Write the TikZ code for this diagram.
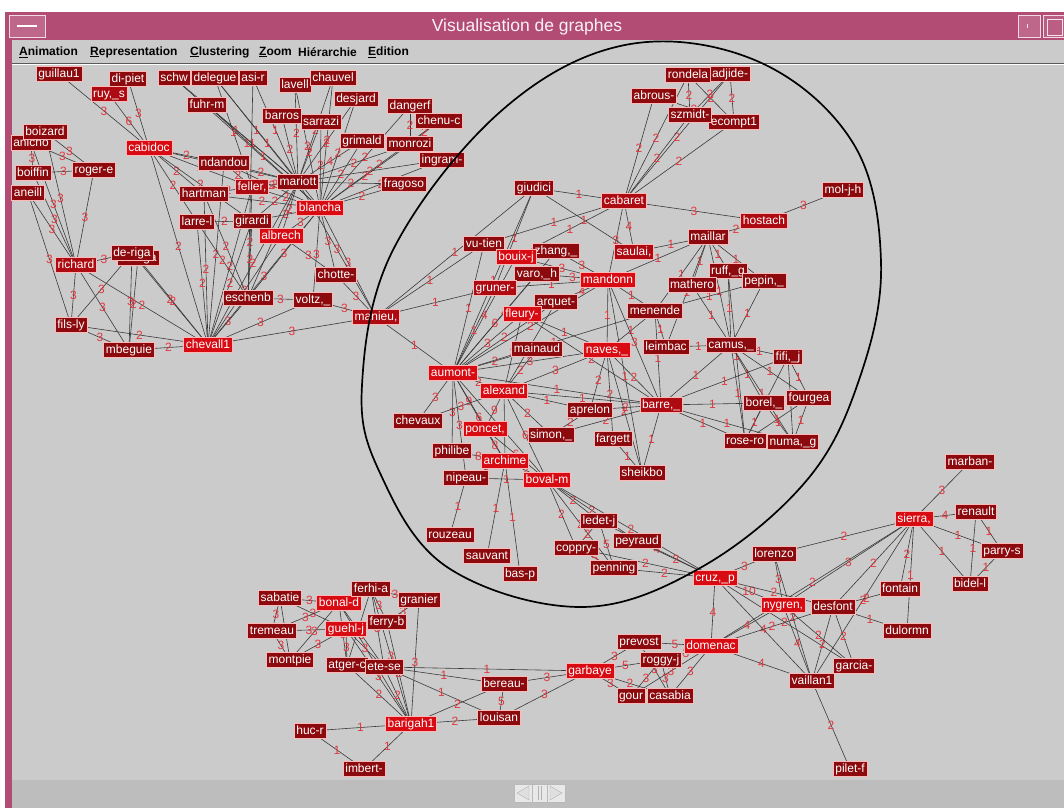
\documentclass[tikz,border=0pt]{standalone}
\usepackage{fontspec}
\setmainfont{Liberation Sans}
\pgfdeclarelayer{chrome}
\pgfdeclarelayer{links}
\pgfsetlayers{chrome,links,main}

\definecolor{winpink}{HTML}{B24C75}
\definecolor{canvas}{HTML}{CBCBCB}
\definecolor{strip}{HTML}{BDBDBD}
\definecolor{nodebright}{HTML}{D80A12}
\definecolor{nodemid}{HTML}{AE0A12}
\definecolor{nodedark}{HTML}{8C0A0D}
\definecolor{edgegray}{HTML}{3A3A3A}
\definecolor{weightred}{HTML}{E2383F}

\tikzset{
  vx/.style={draw=white!72!red, line width=0.6pt, text=white,
    font=\fontsize{12}{12}\selectfont, inner xsep=2.2pt, inner ysep=0pt,
    minimum height=15.5pt, text height=9pt, text depth=2.5pt},
  br/.style={vx, fill=nodebright},
  md/.style={vx, fill=nodemid},
  dk/.style={vx, fill=nodedark},
  edge/.style={draw=edgegray, line width=0.6pt},
  wt/.style={text=weightred, font=\fontsize{12}{12}\selectfont, inner sep=0pt},
  menuitem/.style={anchor=west, font=\bfseries\fontsize{12}{12}\selectfont, inner sep=0pt}
}

\begin{document}
\begin{tikzpicture}[x=1pt,y=-1pt]
\useasboundingbox (0,0) rectangle (1064,808);

% ---------- window frame ----------
\begin{pgfonlayer}{chrome}
  \fill[white] (0,0) rectangle (1064,808);
  \fill[canvas] (12,40) rectangle (1064,780);
  \fill[winpink] (5,12) rectangle (1064,40);
  \fill[winpink] (5,12) rectangle (12,808);
  \fill[strip] (12,780) rectangle (1064,808);
  \draw[gray!70!black, line width=0.6pt] (12,63) -- (1064,63);
  \draw[white, line width=0.6pt] (12,64.2) -- (1064,64.2);
  % title bar buttons
  \draw[fill=winpink!85!white, draw=white!80!winpink] (9,15) rectangle (45,37);
  \draw[white, line width=1.2pt] (17,26) -- (37,26);
  \draw[fill=winpink!85!white, draw=white!80!winpink] (1018,15) rectangle (1040,37);
  \draw[white!85!winpink, line width=0.8pt] (1027,24) -- (1027,28);
  \draw[fill=winpink!90!white, draw=white!80!winpink] (1043,15) rectangle (1064,37);
  \draw[white!85!winpink] (1047,19) rectangle (1062,35);
  % scroll buttons in the bottom strip
  \draw[fill=gray!18, draw=gray!55] (514,784) rectangle (532,802);
  \draw[fill=gray!18, draw=gray!55] (532,784) rectangle (547,802);
  \draw[fill=gray!18, draw=gray!55] (547,784) rectangle (565,802);
  \draw[gray!60, fill=gray!25] (529,786) -- (517,793) -- (529,800) -- cycle;
  \draw[gray!60] (538,786) -- (538,800) (541,786) -- (541,800);
  \draw[gray!60, fill=gray!25] (550,786) -- (562,793) -- (550,800) -- cycle;
\end{pgfonlayer}

\node[text=white!92!winpink, font=\fontsize{17.5}{17.5}\selectfont, inner sep=0pt] (title) at (527,27) {Visualisation de graphes};
\node[menuitem] (m1) at (19,52) {\underline{A}nimation};
\node[menuitem] (m2) at (90,52) {\underline{R}epresentation};
\node[menuitem] (m3) at (190,52) {\underline{C}lustering};
\node[menuitem] (m4) at (259,52) {\underline{Z}oom};
\node[menuitem] (m5) at (298,52) {Hiérarchie};
\node[menuitem] (m6) at (368,52) {\underline{E}dition};

% ---------- vertices ----------
% left-hand cluster
\node[dk] (guillau) at (59,74) {guillau1};
\node[dk] (dipiet) at (128,79) {di-piet};
\node[md] (ruy) at (109,94) {ruy,\_s};
\node[dk] (schw) at (174,78) {schw};
\node[dk] (delegue) at (215,78) {delegue};
\node[dk] (asi) at (253,78) {asi-r};
\node[dk] (lavell) at (295,85) {lavell};
\node[dk] (chauvel) at (333,78) {chauvel};
\node[dk] (desjard) at (356,99) {desjard};
\node[dk] (dangerf) at (410,106) {dangerf};
\node[dk] (chenuc) at (439,121) {chenu-c};
\node[dk] (fuhrm) at (207,105) {fuhr-m};
\node[dk] (barros) at (282,116) {barros};
\node[dk] (sarrazi) at (321,122) {sarrazi};
\node[dk] (grimald) at (362,141) {grimald};
\node[dk] (monrozi) at (410,144) {monrozi};
\node[dk] (ingram) at (442,160) {ingram-};
\node[dk] (anicho) at (31,143) {anicho};
\node[dk] (boizard) at (45,132) {boizard};
\node[br] (cabidoc) at (149,148) {cabidoc};
\node[dk] (ndandou) at (224,163) {ndandou};
\node[dk] (rogere) at (94,170) {roger-e};
\node[dk] (boiffin) at (33,173) {boiffin};
\node[dk] (mariott) at (298,182) {mariott};
\node[dk] (hartman) at (204,194) {hartman};
\node[md] (feller) at (252,187) {feller,};
\node[dk] (fragoso) at (404,184) {fragoso};
\node[br] (blancha) at (320,208) {blancha};
\node[dk] (aneill) at (28,193) {aneill};
\node[dk] (larre) at (197,222) {larre-l};
\node[dk] (girardi) at (252,221) {girardi};
\node[br] (albrech) at (281,236) {albrech};
\node[md] (richard) at (76,265) {richard};
\node[dk] (deriga2) at (138,258) {de-riga};
\node[dk] (deriga) at (132,253) {de-riga};
\node[dk] (chotte) at (336,275) {chotte-};
\node[dk] (eschenb) at (248,298) {eschenb};
\node[dk] (voltz) at (313,300) {voltz,\_};
\node[md] (manieu) at (376,317) {manieu,};
\node[dk] (filsly) at (71,325) {fils-ly};
\node[dk] (mbeguie) at (129,350) {mbeguie};
\node[br] (chevall) at (208,345) {chevall1};

% central cluster
\node[dk] (adjide) at (730,74) {adjide-};
\node[dk] (rondela) at (688,75) {rondela};
\node[dk] (abrous) at (654,96) {abrous-};
\node[dk] (ecompt) at (734,122) {ecompt1};
\node[dk] (szmidt) at (690,115) {szmidt-};
\node[dk] (moljh) at (843,190) {mol-j-h};
\node[dk] (giudici) at (534,188) {giudici};
\node[md] (cabaret) at (624,201) {cabaret};
\node[md] (hostach) at (764,221) {hostach};
\node[dk] (maillar) at (708,237) {maillar};
\node[dk] (vutien) at (484,244) {vu-tien};
\node[dk] (zhang) at (556,251) {zhang,\_};
\node[br] (bouix) at (516,257) {bouix-j};
\node[md] (saulai) at (634,252) {saulai,};
\node[dk] (ruff) at (728,271) {ruff,\_g};
\node[dk] (pepin) at (764,281) {pepin,\_};
\node[dk] (varo) at (537,274) {varo,\_h};
\node[br] (mandonn) at (608,280) {mandonn};
\node[dk] (mathero) at (692,285) {mathero};
\node[md] (gruner) at (495,288) {gruner-};
\node[dk] (arquet) at (556,302) {arquet-};
\node[br] (fleury) at (522,314) {fleury-};
\node[dk] (menende) at (655,311) {menende};
\node[dk] (mainaud) at (537,349) {mainaud};
\node[br] (naves) at (607,350) {naves,\_};
\node[dk] (leimbac) at (666,347) {leimbac};
\node[dk] (camus) at (731,345) {camus,\_};
\node[dk] (fifi) at (788,357) {fifi,\_j};
\node[br] (aumont) at (453,373) {aumont-};
\node[br] (alexand) at (504,391) {alexand};
\node[md] (barre) at (661,405) {barre,\_};
\node[dk] (borel) at (764,403) {borel,\_};
\node[dk] (fourgea) at (809,398) {fourgea};
\node[dk] (aprelon) at (590,410) {aprelon};
\node[dk] (chevaux) at (418,421) {chevaux};
\node[br] (poncet) at (485,429) {poncet,};
\node[dk] (simon) at (551,435) {simon,\_};
\node[dk] (fargett) at (613,439) {fargett};
\node[dk] (roseo) at (745,441) {rose-ro};
\node[dk] (numa) at (793,442) {numa,\_g};
\node[dk] (philibe) at (452,451) {philibe};
\node[br] (archime) at (505,461) {archime};
\node[dk] (nipeau) at (466,478) {nipeau-};
\node[br] (boval) at (547,480) {boval-m};
\node[dk] (sheikbo) at (642,473) {sheikbo};
\node[dk] (ledet) at (599,521) {ledet-j};
\node[dk] (rouzeau) at (450,535) {rouzeau};
\node[dk] (peyraud) at (637,541) {peyraud};
\node[dk] (coppry) at (576,548) {coppry-};
\node[dk] (sauvant) at (487,556) {sauvant};
\node[dk] (penning) at (614,568) {penning};
\node[dk] (basp) at (520,574) {bas-p};

% right-hand cluster
\node[dk] (marban) at (970,462) {marban-};
\node[dk] (renault) at (976,512) {renault};
\node[br] (sierra) at (914,519) {sierra,};
\node[dk] (parry) at (1002,551) {parry-s};
\node[dk] (bidel) at (970,584) {bidel-l};
\node[dk] (lorenzo) at (774,554) {lorenzo};
\node[br] (cruz) at (715,578) {cruz,\_p};
\node[dk] (fontain) at (900,589) {fontain};
\node[br] (nygren) at (783,605) {nygren,};
\node[dk] (desfont) at (833,607) {desfont};
\node[dk] (dulormn) at (907,631) {dulormn};
\node[dk] (prevost) at (639,642) {prevost};
\node[br] (domenac) at (711,646) {domenac};
\node[dk] (roggy) at (661,660) {roggy-j};
\node[br] (garbaye) at (590,671) {garbaye};
\node[dk] (garcia) at (854,666) {garcia-};
\node[dk] (vaillan) at (812,681) {vaillan1};
\node[dk] (gour) at (631,696) {gour};
\node[dk] (casabia) at (670,696) {casabia};
\node[dk] (pilet) at (850,769) {pilet-f};

% lower-left cluster
\node[dk] (sabatie) at (280,598) {sabatie};
\node[br] (bonal) at (339,603) {bonal-d};
\node[dk] (ferhi) at (371,589) {ferhi-a};
\node[dk] (granier) at (419,600) {granier};
\node[dk] (ferry) at (387,622) {ferry-b};
\node[dk] (tremeau) at (272,631) {tremeau};
\node[br] (guehl) at (346,629) {guehl-j};
\node[dk] (montpie) at (290,660) {montpie};
\node[dk] (atger) at (347,665) {atger-c};
\node[dk] (etese) at (384,667) {ete-se};
\node[dk] (bereau) at (504,684) {bereau-};
\node[br] (barigah) at (411,724) {barigah1};
\node[dk] (louisan) at (499,718) {louisan};
\node[dk] (huc) at (310,731) {huc-r};
\node[dk] (imbert) at (364,769) {imbert-};

% ---------- weighted links ----------
\begin{pgfonlayer}{links}
\foreach \a/\b/\w in {
  guillau/cabidoc/3, ruy/cabidoc/6, dipiet/cabidoc/3, boizard/rogere/3, anicho/rogere/3,
  boiffin/rogere/3, anicho/boiffin/3, anicho/richard/3, boizard/richard/3, aneill/richard/3,
  boiffin/richard/3, aneill/filsly/3, rogere/richard/3, richard/deriga/3, richard/filsly/3,
  richard/mbeguie/3, richard/chevall/2, filsly/deriga/3, filsly/chevall/2, filsly/mbeguie/3,
  mbeguie/deriga/3, deriga/chevall/2, deriga2/mbeguie/2, mbeguie/chevall/2, deriga2/chevall/2,
  cabidoc/chevall/2, cabidoc/ndandou/2, cabidoc/hartman/2, cabidoc/larre/2, cabidoc/feller/2,
  cabidoc/girardi/2, cabidoc/mariott/2,
  schw/mariott/1, schw/blancha/1, delegue/mariott/1, delegue/blancha/1, delegue/feller/1,
  asi/eschenb/1, asi/mariott/1, fuhrm/mariott/1, fuhrm/blancha/1, lavell/mariott/2,
  lavell/blancha/2, chauvel/mariott/2, chauvel/blancha/2, desjard/blancha/2, desjard/mariott/2,
  barros/mariott/2, sarrazi/mariott/2, sarrazi/blancha/2, grimald/mariott/4, grimald/blancha/2,
  dangerf/blancha/2, dangerf/monrozi/2, chenuc/blancha/2, chenuc/monrozi/2, monrozi/blancha/2,
  monrozi/mariott/2, ingram/blancha/2, ingram/mariott/2, fragoso/blancha/2, fragoso/mariott/2,
  ndandou/mariott/2, ndandou/blancha/2, ndandou/feller/2, hartman/blancha/2, hartman/feller/2,
  feller/blancha/2, feller/mariott/2, larre/girardi/2, girardi/blancha/2, girardi/mariott/2,
  albrech/blancha/3, albrech/mariott/2, chevall/ndandou/2, chevall/hartman/2, chevall/larre/2,
  chevall/girardi/2, chevall/feller/2, chevall/albrech/3, chevall/eschenb/3, chevall/voltz/3,
  chevall/manieu/3, chevall/blancha/3, chevall/mariott/2, eschenb/voltz/3, eschenb/mariott/2,
  eschenb/blancha/3, eschenb/feller/2, eschenb/hartman/2, eschenb/larre/2, eschenb/girardi/2,
  voltz/manieu/3, voltz/blancha/3, chotte/blancha/3, chotte/manieu/3, chotte/albrech/3,
  manieu/blancha/3, manieu/mariott/3, manieu/vutien/1, manieu/gruner/1, manieu/aumont/1,
  manieu/giudici/1}
  {\draw[edge] (\a.center) -- node[wt]{\w} (\b.center);}

\foreach \a/\b/\w in {
  rondela/cabaret/2, adjide/cabaret/2, abrous/cabaret/2, szmidt/cabaret/2, ecompt/cabaret/2,
  rondela/szmidt/2, rondela/ecompt/2, adjide/ecompt/2, adjide/szmidt/2, abrous/ecompt/2,
  cabaret/hostach/3, moljh/hostach/3, hostach/maillar/2, cabaret/giudici/1, cabaret/saulai/4,
  cabaret/mandonn/3, cabaret/vutien/1, cabaret/bouix/1, giudici/saulai/1, giudici/gruner/1,
  giudici/aumont/1, saulai/maillar/1, maillar/mandonn/1, maillar/mathero/1, maillar/ruff/1,
  maillar/pepin/1, maillar/camus/1, maillar/menende/1, maillar/leimbac/1, mathero/camus/1,
  ruff/camus/1, pepin/camus/1, ruff/roseo/1, pepin/menende/1, menende/mandonn/1,
  menende/naves/1, menende/leimbac/1, menende/barre/1, leimbac/camus/1,
  camus/fifi/1, camus/barre/1, camus/borel/1, camus/numa/1, camus/roseo/1, camus/fourgea/1,
  fifi/barre/1, fifi/fourgea/1, fifi/numa/1, fifi/roseo/1, barre/borel/1, barre/roseo/1,
  barre/numa/1, barre/sheikbo/1, borel/numa/1, borel/roseo/1, fourgea/numa/1, fourgea/roseo/1,
  naves/barre/2, naves/sheikbo/2, naves/fargett/2, naves/aprelon/2, aprelon/barre/2,
  aprelon/simon/2, mandonn/naves/1, mandonn/barre/3, mandonn/sheikbo/1, sheikbo/fargett/1,
  simon/barre/2}
  {\draw[edge] (\a.center) -- node[wt]{\w} (\b.center);}

\foreach \a/\b/\w in {
  aumont/vutien/1, aumont/bouix/4, aumont/zhang/4, aumont/varo/6, aumont/gruner/1,
  aumont/fleury/3, aumont/arquet/2, aumont/mandonn/2, aumont/mainaud/2, aumont/naves/3,
  aumont/alexand/2, aumont/barre/1, aumont/chevaux/3, aumont/philibe/3, aumont/poncet/9,
  aumont/archime/6, aumont/nipeau/3, aumont/boval/5, aumont/menende/1, alexand/mainaud/2,
  alexand/naves/3, alexand/fleury/2, alexand/arquet/2, alexand/aprelon/1, alexand/barre/1,
  alexand/archime/6, alexand/boval/6, alexand/simon/2, alexand/poncet/9, alexand/chevaux/3,
  varo/mandonn/3, zhang/mandonn/3, bouix/mandonn/3, arquet/mandonn/4, fleury/naves/1,
  fleury/barre/2, gruner/mandonn/1, vutien/bouix/1, poncet/archime/8, poncet/boval/6,
  philibe/archime/8, archime/nipeau/3, archime/boval/2, nipeau/rouzeau/1, archime/sauvant/1,
  archime/basp/1, nipeau/boval/1}
  {\draw[edge] (\a.center) -- node[wt]{\w} (\b.center);}

\foreach \a/\b/\w in {
  boval/ledet/2, boval/peyraud/2, boval/coppry/2, boval/penning/2, boval/cruz/2,
  ledet/cruz/4, ledet/coppry/2, ledet/penning/5, peyraud/cruz/2, coppry/cruz/2,
  penning/cruz/2, coppry/penning/5, cruz/lorenzo/3, cruz/nygren/10, cruz/desfont/2,
  cruz/domenac/4, cruz/vaillan/4, cruz/garcia/2, lorenzo/sierra/2, lorenzo/nygren/3,
  lorenzo/vaillan/2, sierra/marban/3, sierra/renault/4, sierra/parry/1, sierra/bidel/1,
  sierra/fontain/2, sierra/dulormn/1, sierra/desfont/2, sierra/nygren/3, sierra/vaillan/2,
  sierra/domenac/2, renault/parry/1, renault/bidel/1, parry/bidel/1, fontain/desfont/2,
  desfont/dulormn/1, desfont/vaillan/2, desfont/garcia/2, nygren/domenac/4, nygren/vaillan/4,
  nygren/garcia/2, desfont/domenac/2, domenac/vaillan/4, domenac/prevost/5, domenac/roggy/3,
  domenac/gour/3, domenac/casabia/3, garbaye/prevost/3, garbaye/roggy/5, garbaye/gour/3,
  garbaye/casabia/2, roggy/gour/3, roggy/casabia/3, prevost/casabia/3, vaillan/pilet/2}
  {\draw[edge] (\a.center) -- node[wt]{\w} (\b.center);}

\foreach \a/\b/\w in {
  garbaye/etese/1, garbaye/bereau/3, garbaye/louisan/3, sabatie/bonal/3, sabatie/tremeau/3,
  sabatie/montpie/3, sabatie/guehl/3, tremeau/bonal/3, tremeau/guehl/3, tremeau/montpie/3,
  montpie/guehl/3, montpie/bonal/3, bonal/ferhi/3, bonal/etese/3, bonal/atger/3,
  bonal/barigah/3, ferhi/granier/3, ferhi/barigah/3, ferhi/etese/3, ferhi/atger/3,
  ferhi/ferry/3, granier/barigah/3, granier/ferry/3, ferry/barigah/2, guehl/barigah/3,
  guehl/atger/3, guehl/etese/3, atger/barigah/2, etese/barigah/2, etese/bereau/1,
  etese/louisan/1, barigah/bereau/2, barigah/louisan/2, barigah/huc/1, barigah/imbert/1,
  huc/imbert/1, bereau/louisan/5}
  {\draw[edge] (\a.center) -- node[wt]{\w} (\b.center);}
\end{pgfonlayer}

% ---------- hand-drawn selection loop ----------
\draw[black, line width=1.7pt] plot[smooth cycle, tension=0.62] coordinates {
  (625,45) (757,61) (853,143) (881,262) (860,377) (807,480) (700,568)
  (580,607) (447,567) (380,473) (362,385) (393,250) (500,112)};
\end{tikzpicture}
\end{document}
